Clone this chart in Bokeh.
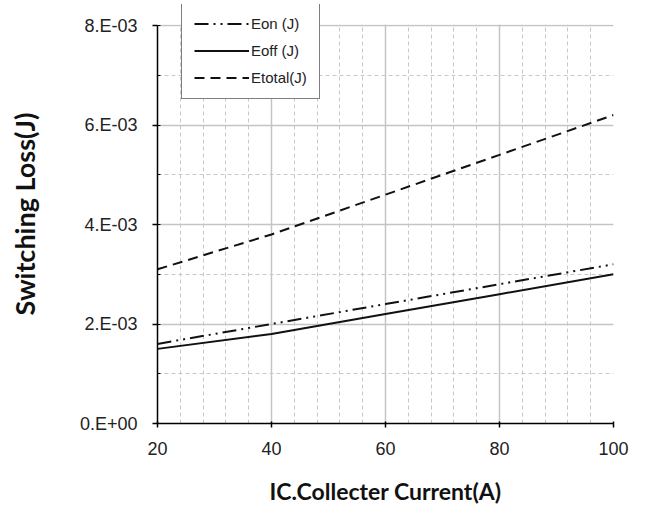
from bokeh.plotting import figure
from bokeh.models import Range1d, SingleIntervalTicker, CustomJSTickFormatter, Legend, LegendItem, BoxAnnotation
from bokeh.embed import file_html
from bokeh.resources import INLINE

current = [20, 40, 60, 80, 100]
eon = [1.6e-3, 2.0e-3, 2.4e-3, 2.8e-3, 3.2e-3]
eoff = [1.5e-3, 1.8e-3, 2.2e-3, 2.6e-3, 3.0e-3]
etotal = [3.1e-3, 3.8e-3, 4.6e-3, 5.4e-3, 6.2e-3]
series_names = ["Eon (J)", "Eoff (J)", "Etotal(J)"]
y_min, y_max = 0.0, 0.008

# frame extends 21px above 8E-03 (398px per 8E-03) so the legend can overhang the top
y_top = y_max * (398 + 21) / 398

p = figure(width=640, height=507, output_backend="svg", toolbar_location=None,
           x_range=Range1d(20, 100), y_range=Range1d(y_min, y_top),
           min_border_left=157, min_border_top=4, min_border_right=27, min_border_bottom=84)
p.outline_line_color = None
p.background_fill_color = "white"

p.xaxis.ticker = SingleIntervalTicker(interval=20, num_minor_ticks=5)
p.yaxis.ticker = SingleIntervalTicker(interval=0.002, num_minor_ticks=2)
p.yaxis.bounds = (y_min, y_max)
p.yaxis.formatter = CustomJSTickFormatter(code="""
if (Math.abs(tick) < 1e-12) return "0.E+00";
var e = Math.floor(Math.log10(Math.abs(tick)) + 1e-9);
var m = Math.round(tick / Math.pow(10, e));
var s = e < 0 ? "-" : "+";
var a = Math.abs(e);
return m + ".E" + s + (a < 10 ? "0" : "") + a;
""")

for g in (p.xgrid, p.ygrid):
    g.grid_line_color = "#c4c4c4"
    g.grid_line_width = 1.5
    g.minor_grid_line_color = "#c8c8c8"
    g.minor_grid_line_dash = "4 3"
    g.minor_grid_line_width = 1
p.ygrid.bounds = (y_min, y_max)

for ax in (p.xaxis, p.yaxis):
    ax.axis_line_color = "black"
    ax.axis_line_width = 1.5
    ax.major_tick_line_color = "black"
    ax.major_tick_line_width = 1.5
    ax.major_label_text_font = "Liberation Sans"
    ax.major_label_text_font_size = "18px"
    ax.major_label_text_color = "#222222"
    ax.axis_label_text_font = "Lato"
    ax.axis_label_text_font_style = "bold"
    ax.axis_label_text_color = "#111111"

p.xaxis.major_tick_out = 4
p.xaxis.major_tick_in = 2
p.xaxis.minor_tick_line_color = None
p.xaxis.major_label_standoff = 14
p.xaxis.axis_label = "IC.Collecter Current(A)"
p.xaxis.axis_label_text_font_size = "23px"
p.xaxis.axis_label_standoff = 19

p.yaxis.major_tick_out = 5
p.yaxis.major_tick_in = 0
p.yaxis.minor_tick_in = 3
p.yaxis.minor_tick_out = 0
p.yaxis.minor_tick_line_color = "black"
p.yaxis.major_label_standoff = 15
p.yaxis.axis_label = "Switching Loss(J)"
p.yaxis.axis_label_text_font_size = "27px"
p.yaxis.axis_label_standoff = 36

r_on = p.line(current, eon, line_color="#111111", line_width=2, line_dash="14 5 2 5 2 5")
r_off = p.line(current, eoff, line_color="#111111", line_width=2)
r_tot = p.line(current, etotal, line_color="#111111", line_width=2, line_dash="10 6")

# blank out the strip above 8E-03 (vertical grid lines run to the frame top)
mask = BoxAnnotation(bottom=y_max * 1.0025, fill_color="white", fill_alpha=1.0, line_color=None)
p.add_layout(mask)

legend = Legend(items=[LegendItem(label=series_names[0], renderers=[r_on]),
                       LegendItem(label=series_names[1], renderers=[r_off]),
                       LegendItem(label=series_names[2], renderers=[r_tot])],
                location=(24, 324), orientation="vertical",
                glyph_width=55, glyph_height=17, label_height=17, label_standoff=2,
                spacing=10, padding=12, margin=0,
                label_text_font="Liberation Sans", label_text_font_size="15px",
                label_text_color="#222222",
                border_line_color="black", border_line_width=1.5,
                background_fill_color="white", background_fill_alpha=1.0)
p.add_layout(legend, "center")

open("out.html", "w").write(file_html(p, INLINE))
